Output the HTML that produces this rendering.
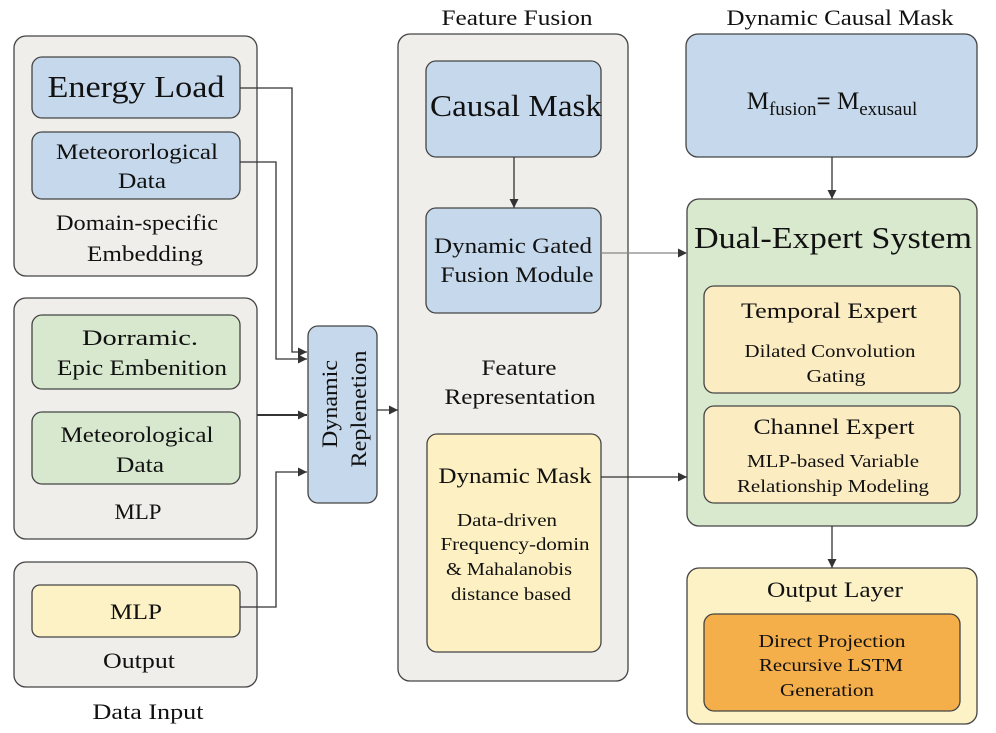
<!DOCTYPE html>
<html><head><meta charset="utf-8"><style>
html,body{margin:0;padding:0;background:#fff;}
svg{display:block;font-family:"Liberation Serif",serif;}
text{fill:#111;text-anchor:middle;}
</style></head><body>
<svg width="996" height="733" viewBox="0 0 996 733" xmlns="http://www.w3.org/2000/svg">
<defs>
<marker id="a" viewBox="0 0 10 10" refX="10" refY="5" markerWidth="12" markerHeight="9" orient="auto" markerUnits="userSpaceOnUse"><path d="M0,0 L10,5 L0,10 z" fill="#333"/></marker>
</defs>
<g stroke="#444" stroke-width="1.3">
<rect x="14" y="36" width="243" height="240" rx="12" fill="#efeeeb"/>
<rect x="32" y="57" width="208" height="61" rx="10" fill="#c6d9ec"/>
<rect x="32" y="132" width="208" height="67" rx="10" fill="#c6d9ec"/>
<rect x="14" y="298" width="243" height="241" rx="12" fill="#efeeeb"/>
<rect x="32" y="315" width="208" height="74" rx="10" fill="#d7e8cf"/>
<rect x="32" y="412" width="208" height="72" rx="10" fill="#d7e8cf"/>
<rect x="14" y="562" width="243" height="125" rx="12" fill="#efeeeb"/>
<rect x="32" y="585" width="208" height="52" rx="8" fill="#fdf2c6"/>
<rect x="308" y="326" width="69" height="177" rx="10" fill="#c6d9ec"/>
<rect x="398" y="34" width="230" height="647" rx="12" fill="#efeeeb"/>
<rect x="426" y="61" width="175" height="96" rx="10" fill="#c6d9ec"/>
<rect x="426" y="208" width="175" height="105" rx="10" fill="#c6d9ec"/>
<rect x="427" y="434" width="174" height="218" rx="10" fill="#fdf0c2"/>
<rect x="686" y="34" width="291" height="123" rx="12" fill="#c6d9ec"/>
<rect x="687" y="199" width="290" height="327" rx="12" fill="#d9e9ce"/>
<rect x="704" y="286" width="256" height="107" rx="10" fill="#fcecc2"/>
<rect x="704" y="406" width="256" height="97" rx="10" fill="#fcecc2"/>
<rect x="687" y="568" width="290" height="156" rx="12" fill="#fdf2c6"/>
<rect x="704" y="614" width="256" height="97" rx="10" fill="#f4ae4a"/>
</g>
<g stroke="#333" stroke-width="1.3" fill="none">
<path d="M240,88 H292 V352 H307" marker-end="url(#a)"/>
<path d="M240,162 H276 V359 H307" marker-end="url(#a)"/>
<path d="M257,415 H307" stroke-width="2" marker-end="url(#a)"/>
<path d="M240,607 H276 V472 H307" marker-end="url(#a)"/>
<path d="M377,410 H398" marker-end="url(#a)"/>
<path d="M514,157 V208" marker-end="url(#a)"/>
<path d="M601,253 H687" stroke="#888" marker-end="url(#a)"/>
<path d="M601,477 H687" marker-end="url(#a)"/>
<path d="M832,157 V199" marker-end="url(#a)"/>
<path d="M832,526 V568" marker-end="url(#a)"/>
</g>
<g lengthAdjust="spacingAndGlyphs">
<text x="136" y="97" font-size="31" textLength="177" lengthAdjust="spacingAndGlyphs">Energy Load</text>
<text x="137" y="159" font-size="22" textLength="162" lengthAdjust="spacingAndGlyphs">Meteororlogical</text>
<text x="142" y="188" font-size="22" textLength="48" lengthAdjust="spacingAndGlyphs">Data</text>
<text x="137" y="230" font-size="22" textLength="162" lengthAdjust="spacingAndGlyphs">Domain-specific</text>
<text x="145" y="261" font-size="22" textLength="116" lengthAdjust="spacingAndGlyphs">Embedding</text>
<text x="140" y="345" font-size="22" textLength="116" lengthAdjust="spacingAndGlyphs">Dorramic.</text>
<text x="142" y="375" font-size="22" textLength="170" lengthAdjust="spacingAndGlyphs">Epic Embenition</text>
<text x="137" y="442" font-size="22" textLength="153" lengthAdjust="spacingAndGlyphs">Meteorological</text>
<text x="140" y="472" font-size="22" textLength="48" lengthAdjust="spacingAndGlyphs">Data</text>
<text x="138" y="519" font-size="22" textLength="47" lengthAdjust="spacingAndGlyphs">MLP</text>
<text x="136" y="619" font-size="22" textLength="52" lengthAdjust="spacingAndGlyphs">MLP</text>
<text x="139" y="668" font-size="22" textLength="72" lengthAdjust="spacingAndGlyphs">Output</text>
<text x="148" y="719" font-size="22" textLength="111" lengthAdjust="spacingAndGlyphs">Data Input</text>
<text transform="translate(337,404) rotate(-90)" font-size="22" textLength="88" lengthAdjust="spacingAndGlyphs">Dynamic</text>
<text transform="translate(366,409) rotate(-90)" font-size="22" textLength="117" lengthAdjust="spacingAndGlyphs">Replenetion</text>
<text x="517" y="25" font-size="22" textLength="151" lengthAdjust="spacingAndGlyphs">Feature Fusion</text>
<text x="516" y="116" font-size="31" textLength="172" lengthAdjust="spacingAndGlyphs">Causal Mask</text>
<text x="513" y="253" font-size="22" textLength="158" lengthAdjust="spacingAndGlyphs">Dynamic Gated</text>
<text x="517" y="282" font-size="22" textLength="153" lengthAdjust="spacingAndGlyphs">Fusion Module</text>
<text x="519" y="375" font-size="22" textLength="75" lengthAdjust="spacingAndGlyphs">Feature</text>
<text x="520" y="404" font-size="22" textLength="151" lengthAdjust="spacingAndGlyphs">Representation</text>
<text x="515" y="483" font-size="22" textLength="153" lengthAdjust="spacingAndGlyphs">Dynamic Mask</text>
<text x="507" y="526" font-size="18" textLength="100" lengthAdjust="spacingAndGlyphs">Data-driven</text>
<text x="515" y="550" font-size="18" textLength="149" lengthAdjust="spacingAndGlyphs">Frequency-domin</text>
<text x="509" y="575" font-size="18" textLength="126" lengthAdjust="spacingAndGlyphs">&amp; Mahalanobis</text>
<text x="511" y="600" font-size="18" textLength="120" lengthAdjust="spacingAndGlyphs">distance based</text>
<text x="840" y="25" font-size="22" textLength="227" lengthAdjust="spacingAndGlyphs">Dynamic Causal Mask</text>
<text x="832" y="109" font-size="25">M<tspan font-size="19" dy="6">fusion</tspan><tspan dy="-6" font-weight="bold">=</tspan> M<tspan font-size="19" dy="6">exusaul</tspan></text>
<text x="833" y="248" font-size="31" textLength="278" lengthAdjust="spacingAndGlyphs">Dual-Expert System</text>
<text x="829" y="318" font-size="22" textLength="176" lengthAdjust="spacingAndGlyphs">Temporal Expert</text>
<text x="830" y="357" font-size="18" textLength="171" lengthAdjust="spacingAndGlyphs">Dilated Convolution</text>
<text x="836" y="382" font-size="18" textLength="59" lengthAdjust="spacingAndGlyphs">Gating</text>
<text x="834" y="434" font-size="22" textLength="161" lengthAdjust="spacingAndGlyphs">Channel Expert</text>
<text x="833" y="467" font-size="18" textLength="172" lengthAdjust="spacingAndGlyphs">MLP-based Variable</text>
<text x="833" y="492" font-size="18" textLength="192" lengthAdjust="spacingAndGlyphs">Relationship Modeling</text>
<text x="835" y="597" font-size="22" textLength="136" lengthAdjust="spacingAndGlyphs">Output Layer</text>
<text x="832" y="647" font-size="18" textLength="147" lengthAdjust="spacingAndGlyphs">Direct Projection</text>
<text x="831" y="671" font-size="18" textLength="144" lengthAdjust="spacingAndGlyphs">Recursive LSTM</text>
<text x="827" y="696" font-size="18" textLength="94" lengthAdjust="spacingAndGlyphs">Generation</text>
</g>
</svg>
</body></html>
